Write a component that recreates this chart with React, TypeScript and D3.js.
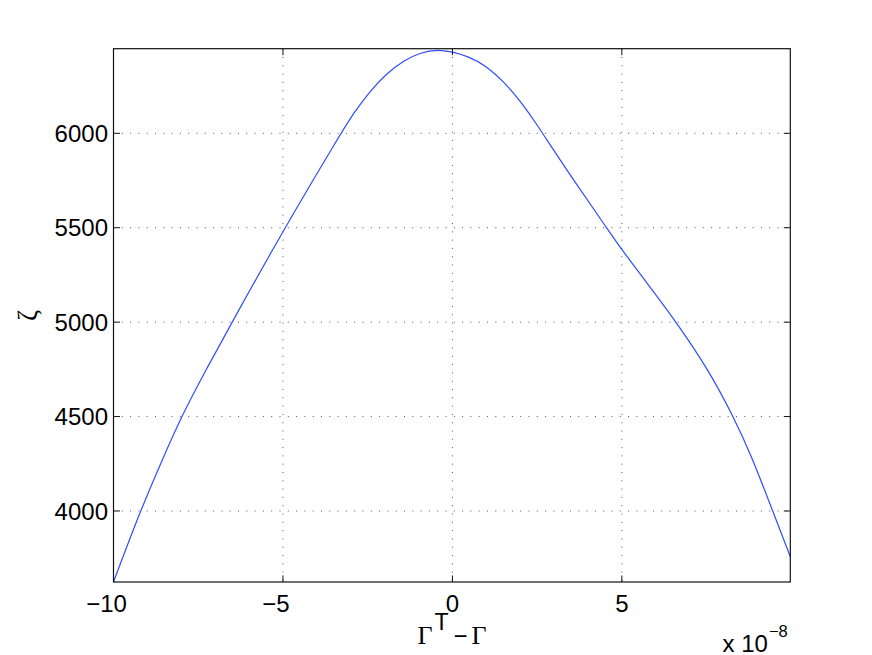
import React from "react";
import * as d3 from "d3";

const xValues = [-10, -9.21, -8.6, -8.0, -7.25, -6.5, -4.95, -3.29, -2.92, -2.43, -1.94, -1.45, -0.95, -0.36, 0.52, 1.01, 1.5, 2.0, 2.49, 2.66, 3.6, 4.55, 5.0, 6.13, 6.6, 7.55, 8.29, 8.83, 9.45, 9.97];
const zetaValues = [3624, 4000, 4255, 4500, 4755, 5000, 5500, 6000, 6106, 6224, 6317, 6385, 6428, 6448, 6407, 6354, 6277, 6172, 6047, 6000, 5745, 5500, 5382, 5116, 5000, 4750, 4500, 4290, 4000, 3758];
const xTicks = [-10, -5, 0, 5];
const yTicks = [4000, 4500, 5000, 5500, 6000];
const xDomain = [-10, 9.97];
const yDomain = [3624, 6448];

const W = 872;
const H = 655;
const L = 113.5, R = 790.3, T = 48.7, B = 582;
const SANS = "'Liberation Sans', Arial, Helvetica, sans-serif";
const SERIF = "'Liberation Serif', 'Times New Roman', serif";

export default function App() {
  const x = d3.scaleLinear().domain(xDomain).range([L, R]);
  const y = d3.scaleLinear().domain(yDomain).range([B, T]);
  const pts = xValues.map((v, i) => [v, zetaValues[i]] as [number, number]);
  const line = d3
    .line<[number, number]>()
    .x((d) => x(d[0]))
    .y((d) => y(d[1]))
    .curve(d3.curveBasis);
  const tickLen = 6.5;
  const grid = "#555";
  return (
    <svg width={W} height={H} style={{ position: "absolute", left: 0, top: 0, background: "#fff" }}>
      <rect x={0} y={0} width={W} height={H} fill="#fff" />
      {/* grid */}
      {xTicks.filter((t) => t !== -10).map((t) => (
        <line key={"gx" + t} x1={x(t)} x2={x(t)} y1={T} y2={B} stroke={grid} strokeWidth={1} strokeDasharray="1 7.3" />
      ))}
      {yTicks.map((t) => (
        <line key={"gy" + t} x1={L} x2={R} y1={y(t)} y2={y(t)} stroke={grid} strokeWidth={1} strokeDasharray="1 7.3" />
      ))}
      {/* curve */}
      <path d={line(pts) || ""} fill="none" stroke="#2f4dff" strokeWidth={1.2} />
      {/* axes box */}
      <rect x={L} y={T} width={R - L} height={B - T} fill="none" stroke="#111" strokeWidth={1.2} />
      {/* ticks */}
      {xTicks.map((t) => (
        <g key={"tx" + t}>
          <line x1={x(t)} x2={x(t)} y1={B} y2={B - tickLen} stroke="#111" />
          <line x1={x(t)} x2={x(t)} y1={T} y2={T + tickLen} stroke="#111" />
          <text
            x={x(t)}
            y={612}
            dx={t < 0 ? -7 : 0}
            textAnchor="middle"
            fontFamily={SANS}
            fontSize={24}
            fill="#000"
          >
            {t < 0 ? "\u2212" + Math.abs(t) : String(t)}
          </text>
        </g>
      ))}
      {yTicks.map((t) => (
        <g key={"ty" + t}>
          <line x1={L} x2={L + tickLen} y1={y(t)} y2={y(t)} stroke="#111" />
          <line x1={R} x2={R - tickLen} y1={y(t)} y2={y(t)} stroke="#111" />
          <text x={108} y={y(t)} dy="0.36em" textAnchor="end" fontFamily={SANS} fontSize={24} fill="#000">
            {t}
          </text>
        </g>
      ))}
      {/* x label */}
      <text x={452} y={644} textAnchor="middle" fill="#000">
        <tspan fontFamily={SERIF} fontSize={26}>Γ</tspan>
        <tspan fontFamily={SANS} fontSize={23} dx={2} dy={-14}>T</tspan>
        <tspan fontFamily={SANS} fontSize={24} dx={5} dy={14}>−</tspan>
        <tspan fontFamily={SERIF} fontSize={26} dx={4}>Γ</tspan>
      </text>
      {/* y label */}
      <text
        transform={`translate(37, ${(T + B) / 2}) rotate(-90)`}
        textAnchor="middle"
        fontFamily={SERIF}
        fontSize={27}
        fill="#000"
      >
        ζ
      </text>
      {/* exponent */}
      <text x={722.5} y={651.5} fontFamily={SANS} fontSize={24} fill="#000">
        x 10
        <tspan fontSize={16.5} dy={-14.5} dx={1}>−8</tspan>
      </text>
    </svg>
  );
}
